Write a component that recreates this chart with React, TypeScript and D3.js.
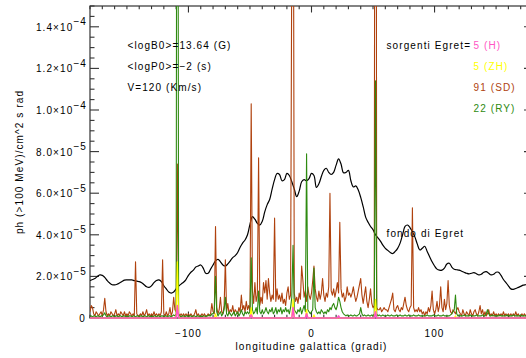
import {useEffect, useRef} from "react";
import * as d3 from "d3";

const W = 526;
const H = 358;
const lonStart = -180; // series sampled every 1 degree from -180 to 180
const bgStep = 2;      // Egret background sampled every 2 degrees

// all values in units of 1e-6 ph/cm^2 s rad
const bgValues = [
    18, 18.5, 19, 20, 20.7, 20.5, 19.5, 18, 16.8, 16,
    15.9, 16.2, 16.8, 17.5, 18.2, 18.3, 18.3, 18.3, 18, 17.7,
    17.5, 17, 16, 15, 14.7, 15.5, 17, 18, 18.3, 17.5,
    15.5, 14, 12.5, 12, 12.5, 14, 15.3, 16.3, 17.2, 18.5,
    20.5, 22, 23, 24.5, 25, 25.5, 24, 21.5, 21.5, 23.5,
    25.5, 27.5, 28.2, 27, 25.5, 25, 26, 27.5, 29, 30,
    31.5, 34, 36, 37.5, 40, 45, 48.7, 47.5, 45.5, 44.7,
    46.5, 51, 54.5, 57, 62, 66.5, 69.5, 69, 66, 66.5,
    69.5, 68.5, 65.5, 62, 58.3, 61, 65.5, 66.5, 66, 67,
    69.5, 68.5, 62.8, 64.5, 68, 71, 72, 70, 69, 70,
    73.5, 76.5, 74, 69.8, 70, 71, 66, 63, 63.5, 61.5,
    58, 53.5, 48.5, 46, 44, 42.5, 40, 38.5, 37, 35,
    33.5, 32.5, 31.5, 31, 32, 33.5, 36, 40, 44, 44.7,
    43.5, 41.5, 39, 35.5, 32.7, 33.5, 34.5, 32, 29.5, 27,
    25, 23.5, 23, 23, 24, 26, 26.3, 24.5, 23.4, 23.2,
    23, 22.5, 22, 21.5, 21.2, 21.5, 21.8, 21.3, 20.7, 21,
    22, 22.3, 21.5, 20.7, 21, 22, 22, 20.5, 18.5, 17,
    15.5, 14, 13.8, 14.2, 14.7, 15.2, 15.8, 16, 16.2, 16.3,
    16.5
];

const sdValues = [
    3, 6, 5, 2, 1, 3, 2, 1, 2, 3,
    1, 4, 9.5, 3, 1, 2, 1, 3, 2, 1,
    2, 4, 1, 2, 1, 3, 2, 1, 3, 1,
    2, 1, 3, 2, 1, 2, 1, 27, 2, 1,
    1, 2, 1, 3, 1, 2, 4, 1, 2, 1,
    2, 1, 3, 1, 2, 1, 2, 1, 3, 28,
    2, 1, 3, 1, 2, 5, 1, 3, 10, 4,
    3, 74, 2, 1, 2, 1, 2, 1, 2, 1,
    2, 1, 2, 1, 1, 2, 4, 1, 2, 1,
    1, 2, 1, 2, 1, 1, 2, 1, 2, 7,
    3, 2, 44, 5, 2, 4, 10, 3, 2, 6,
    28, 3, 7, 2, 4, 3, 6, 2, 4, 3,
    2, 5, 3, 11, 4, 6, 3, 8, 4, 6,
    3, 103, 13, 7, 17, 8, 11, 77, 6, 10,
    7, 17, 12, 18, 9, 19, 12, 8, 11, 9,
    48, 8, 14, 9, 11, 8, 12, 7, 9, 6,
    12, 15, 9, 11, 180, 300, 12, 8, 10, 7,
    12, 9, 25, 18, 10, 13, 8, 15, 11, 9,
    12, 18, 25, 14, 10, 8, 13, 9, 12, 19,
    11, 8, 12, 10, 15, 60, 13, 11, 14, 10,
    13, 17, 12, 46, 14, 10, 12, 8, 10, 15,
    11, 12, 10, 12, 15, 11, 8, 10, 13, 16,
    19, 11, 7, 11, 15, 8, 5, 9, 14, 7,
    5, 6, 600, 5, 4, 4, 5, 3, 4, 5,
    4, 4, 3, 5, 7, 9, 12, 4, 3, 5,
    6, 4, 3, 5, 4, 7, 10, 6, 4, 3,
    5, 6, 53, 5, 3, 4, 3, 5, 3, 4,
    2, 3, 1, 3, 2, 5, 3, 6, 13, 4,
    2, 4, 8, 3, 6, 15, 5, 3, 9, 4,
    7, 18, 6, 3, 2, 4, 3, 2, 4, 5,
    3, 2, 1, 4, 2, 1, 3, 2, 1, 4,
    2, 1, 3, 4, 2, 1, 3, 6, 2, 4,
    1, 3, 1, 2, 4, 1, 2, 1, 3, 1,
    2, 1, 2, 1, 2, 1, 3, 1, 2, 1,
    2, 1, 2, 1, 2, 1, 3, 1, 2, 1,
    1, 2, 1, 2, 1, 2, 1, 2, 1, 2,
    1
];

const ryValues = [
    1, 1, 0.5, 1, 1, 0.5, 1, 1, 0.5, 1,
    1, 1.5, 2.5, 1, 0.5, 1, 1, 0.5, 1, 1,
    0.5, 1, 1, 0.5, 1, 1, 0.5, 1, 1, 0.5,
    1, 0.5, 1, 1, 0.5, 1, 1, 0.5, 1, 1,
    0.5, 1, 1, 0.5, 1, 1, 0.5, 1, 1, 0.5,
    1, 0.5, 1, 1, 0.5, 1, 1, 0.5, 1, 1,
    0.5, 1, 1, 0.5, 1, 1, 0.5, 1, 1.5, 1,
    2, 500, 2, 1, 0.5, 1, 1, 0.5, 1, 1,
    0.5, 1, 1, 0.5, 1, 1, 0.5, 1, 1, 0.5,
    1, 0.5, 1, 1, 0.5, 1, 1, 1.5, 1, 2,
    2, 3, 20, 3, 1, 2, 3, 1, 2, 4,
    10, 2, 1, 3, 2, 1, 2, 3, 1, 2,
    3, 1, 2, 4, 2, 1, 3, 2, 3, 2,
    3, 29, 4, 2, 3, 5, 2, 13, 3, 2,
    4, 2, 3, 5, 3, 2, 4, 3, 5, 2,
    3, 5, 2, 4, 3, 5, 2, 4, 3, 5,
    3, 4, 2, 5, 10, 35, 4, 3, 2, 4,
    3, 5, 2, 4, 6, 3, 79, 4, 3, 2,
    3, 4, 24, 5, 3, 2, 3, 2, 4, 3,
    2, 3, 2, 4, 3, 5, 4, 6, 7, 5,
    4, 6, 10, 8, 5, 3, 2, 1.5, 1, 1.5,
    1, 1, 1.5, 1, 1, 1.5, 1, 1, 1.5, 2,
    5, 2, 1, 1.5, 1, 1, 1.5, 1, 1, 1.5,
    1, 2, 114, 2, 1, 1.5, 1, 1, 1.5, 1,
    1, 1, 1.5, 1, 1, 1.5, 1, 1, 1, 1.5,
    1, 1, 1.5, 1, 1, 1, 1.5, 1, 1, 1.5,
    1, 1, 1, 1.5, 1, 1, 1, 1.5, 1, 1,
    1, 1, 1, 1, 1.5, 1, 1, 1, 1, 1.5,
    1, 1, 1, 1.5, 1, 1, 1, 1.5, 1, 1,
    1, 1, 1, 1.5, 2, 3, 4, 11, 2, 1,
    1.5, 1, 1, 1, 1.5, 1, 1, 1, 1, 1.5,
    1, 1, 1, 1, 1.5, 1, 1, 1, 1, 1.5,
    1, 1, 2, 4, 2, 1, 1, 1.5, 1, 1,
    1, 1, 1, 1.5, 1, 1, 1, 1, 1, 1.5,
    1, 1, 1, 1, 1.5, 1, 1, 1, 1, 1,
    1.5, 1, 1, 1, 1, 1.5, 1, 1, 1, 1,
    1
];

const zhValues = [
    0, 0, 0, 0, 0, 0, 0, 0, 0, 0,
    0, 0, 0, 0, 0, 0, 0, 0, 0, 0,
    0, 0, 0, 0, 0, 0, 0, 0, 0, 0,
    0, 0, 0, 0, 0, 0, 0, 0, 0, 0,
    0, 0, 0, 0, 0, 0, 0, 0, 0, 0,
    0, 0, 0, 0, 0, 0, 0, 0, 0, 0,
    0, 0, 0, 0, 0, 0, 0, 0, 0, 0,
    0, 27, 0, 0, 0, 0, 0, 0, 0, 0,
    0, 0, 0, 0, 0, 0, 0, 0, 0, 0,
    0, 0, 0, 0, 0, 0, 0, 0, 0, 0,
    0, 0, 2, 0, 0, 0, 0, 0, 0, 0,
    0, 0, 0, 0, 0, 0, 0, 0, 0, 0,
    0, 0, 0, 0, 0, 0, 0, 0, 0, 0,
    0, 5, 0, 0, 0, 0, 0, 0, 0, 0,
    0, 0, 0, 0, 0, 0, 0, 0, 0, 0,
    0, 0, 0, 0, 0, 0, 0, 0, 0, 0,
    0, 0, 0, 0, 0, 9, 0, 0, 0, 0,
    0, 0, 0, 0, 0, 0, 4, 0, 0, 0,
    0, 0, 1.5, 0, 0, 0, 0, 0, 0, 0,
    0, 0, 0, 0, 0, 0, 0, 0, 0, 0,
    0, 0, 0, 0, 0, 0, 0, 0, 0, 0,
    0, 0, 0, 0, 0, 0, 0, 0, 0, 0,
    0, 0, 0, 0, 0, 0, 0, 0, 0, 0,
    0, 0, 9, 0, 0, 0, 0, 0, 0, 0,
    0, 0, 0, 0, 0, 0, 0, 0, 0, 0,
    0, 0, 0, 0, 0, 0, 0, 0, 0, 0,
    0, 0, 0, 0, 0, 0, 0, 0, 0, 0,
    0, 0, 0, 0, 0, 0, 0, 0, 0, 0,
    0, 0, 0, 0, 0, 0, 0, 0, 0, 0,
    0, 0, 0, 0, 0, 0, 0, 1, 0, 0,
    0, 0, 0, 0, 0, 0, 0, 0, 0, 0,
    0, 0, 0, 0, 0, 0, 0, 0, 0, 0,
    0, 0, 0, 0, 0, 0, 0, 0, 0, 0,
    0, 0, 0, 0, 0, 0, 0, 0, 0, 0,
    0, 0, 0, 0, 0, 0, 0, 0, 0, 0,
    0, 0, 0, 0, 0, 0, 0, 0, 0, 0,
    0
];

const hValues = [
    0, 0, 0, 0, 0, 0, 0, 0, 0, 0,
    0, 0, 0, 0, 0, 0, 0, 0, 0, 0,
    0, 0, 0, 0, 0, 0, 0, 0, 0, 0,
    0, 0, 0, 0, 0, 0, 0, 0, 0, 0,
    0, 0, 0, 0, 0, 0, 0, 0, 0, 0,
    0, 0, 0, 0, 0, 0, 0, 0, 0, 0,
    0, 0, 0, 0, 0, 0, 0, 0, 0, 0,
    0, 6, 0, 0, 0, 0, 0, 0, 0, 0,
    0, 0, 0, 0, 0, 0, 0, 0, 0, 0,
    0, 0, 0, 0, 0, 0, 0, 0, 0, 0,
    0, 0, 0, 0, 0, 0, 0, 0, 0, 0,
    0, 0, 0, 0, 0, 0, 0, 0, 0, 0,
    0, 0, 0, 0, 0, 0, 0, 0, 0, 0,
    0, 1.5, 0, 0, 0, 0, 0, 0, 0, 0,
    0, 0, 0, 0, 0, 0, 0, 0, 0, 0,
    0, 0, 0, 0, 0, 0, 0, 0, 0, 0,
    0, 0, 0, 0, 0, 5, 0, 0, 0, 0,
    0, 0, 0, 0, 0, 0, 2, 0, 0, 0,
    0, 0, 0, 0, 0, 0, 0, 0, 0, 0,
    0, 0, 0, 0, 0, 0, 0, 0, 0, 0,
    0, 0, 1, 0, 0, 0, 0, 0, 0, 0,
    0, 0, 0, 0, 0, 0, 0, 0, 0, 0,
    0, 0, 0, 0, 0, 0, 0, 0, 0, 0,
    0, 0, 3, 0, 0, 0, 0, 0, 0, 0,
    0, 0, 0, 0, 0, 0, 0, 0, 0, 0,
    0, 0, 0, 0, 0, 0, 0, 0, 0, 0,
    0, 0, 0, 0, 0, 0, 0, 0, 0, 0,
    0, 0, 0, 0, 0, 0, 0, 0, 0, 0,
    0, 0, 0, 0, 0, 0, 0, 0, 0, 0,
    0, 0, 0, 0, 0, 0, 0, 0, 0, 0,
    0, 0, 0, 0, 0, 0, 0, 0, 0, 0,
    0, 0, 0, 0, 0, 0, 0, 0, 0, 0,
    0, 0, 0, 0, 0, 0, 0, 0, 0, 0,
    0, 0, 0, 0, 0, 0, 0, 0, 0, 0,
    0, 0, 0, 0, 0, 0, 0, 0, 0, 0,
    0, 0, 0, 0, 0, 0, 0, 0, 0, 0,
    0
];

const yTickValues = [0, 2e-5, 4e-5, 6e-5, 8e-5, 1e-4, 1.2e-4, 1.4e-4];
const yTickMain = ["0", "2.0×10", "4.0×10", "6.0×10", "8.0×10", "1.0×10", "1.2×10", "1.4×10"];
const yTickExp = ["", "−5", "−5", "−5", "−5", "−4", "−4", "−4"];
const xTickValues = [-100, 0, 100];
const xTickLabels = ["−100", "0", "100"];

const infoLines = ["<logB0>=13.64 (G)", "<logP0>=−2 (s)", "V=120 (Km/s)"];
const legendTitle = "sorgenti Egret=";
const legendNames = ["5 (H)", "5 (ZH)", "91 (SD)", "22 (RY)"];

const colH = "#ff55c4";
const colZH = "#ffff00";
const colSD = "#b0420e";
const colRY = "#2e8a10";

const FONT = "'Liberation Sans', Arial, sans-serif";

const App = () => {
    const svgRef = useRef<SVGSVGElement | null>(null);

    useEffect(() => {
        const svg = d3.select(svgRef.current);
        svg.selectAll("*").remove();

        const left = 90, right = 533, top = 6, bottom = 318;
        const x = d3.scaleLinear().domain([-180, 180]).range([left, right]);
        const y = d3.scaleLinear().domain([0, 1.5e-4]).range([bottom, top]);

        const txt = (g: any) => g
            .attr("font-family", FONT)
            .attr("font-size", 10)
            .attr("letter-spacing", "1.1px")
            .attr("fill", "#000");

        svg.append("rect").attr("width", W).attr("height", H).attr("fill", "#fff");

        // frame
        const axisCol = "#333";
        svg.append("rect")
            .attr("x", left).attr("y", top)
            .attr("width", right - left).attr("height", bottom - top)
            .attr("fill", "none").attr("stroke", axisCol).attr("stroke-width", 1.2);

        // y ticks (left and right)
        const yMinor = d3.range(0, 1.5e-4 + 1e-12, 5e-6);
        const yt = svg.append("g").attr("stroke", axisCol).attr("stroke-width", 1.1);
        yMinor.forEach((v, i) => {
            const len = i % 4 === 0 ? 9 : 4.5;
            yt.append("line").attr("x1", left).attr("x2", left + len).attr("y1", y(v)).attr("y2", y(v));
            yt.append("line").attr("x1", right).attr("x2", right - len).attr("y1", y(v)).attr("y2", y(v));
        });

        // x ticks (top and bottom)
        const xMinor = d3.range(-180, 181, 10);
        xMinor.forEach(v => {
            const len = v % 100 === 0 ? 6.5 : 3.2;
            yt.append("line").attr("x1", x(v)).attr("x2", x(v)).attr("y1", bottom).attr("y2", bottom - len);
            yt.append("line").attr("x1", x(v)).attr("x2", x(v)).attr("y1", top).attr("y2", top + len);
        });

        // y tick labels
        yTickValues.forEach((v, i) => {
            const t = svg.append("text")
                .call(txt)
                .attr("text-anchor", "end")
                .attr("x", yTickExp[i] ? 87 : 86)
                .attr("y", y(v) + 4);
            t.append("tspan").text(yTickMain[i]);
            if (yTickExp[i]) t.append("tspan").attr("dy", -5.5).text(yTickExp[i]);
        });

        // x tick labels
        xTickValues.forEach((v, i) => {
            svg.append("text").call(txt)
                .attr("text-anchor", "middle")
                .attr("x", x(v)).attr("y", 337)
                .text(xTickLabels[i]);
        });

        svg.append("text").call(txt)
            .attr("text-anchor", "middle")
            .attr("x", (left + right) / 2).attr("y", 350)
            .text("longitudine galattica (gradi)");

        svg.append("text").call(txt)
            .attr("text-anchor", "middle")
            .attr("transform", `translate(23,${(top + bottom) / 2}) rotate(-90)`)
            .text("ph (>100 MeV)/cm^2 s rad");

        // data lines
        const clipId = "plotClip";
        svg.append("clipPath").attr("id", clipId)
            .append("rect").attr("x", left).attr("y", top).attr("width", right - left).attr("height", bottom - top + 3);
        const plot = svg.append("g").attr("clip-path", `url(#${clipId})`);

        const bgLine = d3.line<number>()
            .x((_, i) => x(lonStart + i * bgStep))
            .y(d => y(d * 1e-6))
            .curve(d3.curveCatmullRom);
        const line = d3.line<number>()
            .x((_, i) => x(lonStart + i))
            .y(d => y(d * 1e-6));

        plot.append("path").attr("d", bgLine(bgValues)).attr("fill", "none")
            .attr("stroke", "#000").attr("stroke-width", 1.2);

        const series: [number[], string, number][] = [
            [sdValues, colSD, 1.1],
            [ryValues, colRY, 1.1],
            [zhValues, colZH, 1.2],
            [hValues, colH, 1.6],
        ];
        series.forEach(([vals, col, w]) => {
            plot.append("path").attr("d", line(vals)).attr("fill", "none")
                .attr("stroke", col).attr("stroke-width", w).attr("stroke-linejoin", "round");
        });

        // annotations
        infoLines.forEach((s, i) => {
            svg.append("text").call(txt).attr("x", 127.5).attr("y", 48.8 + i * 21).text(s);
        });
        svg.append("text").call(txt).attr("x", 386.5).attr("y", 48.8).text(legendTitle);
        const legendCols = [colH, colZH, colSD, colRY];
        legendNames.forEach((s, i) => {
            svg.append("text").call(txt).attr("x", 473.5).attr("y", 48.8 + i * 20.9)
                .attr("fill", legendCols[i]).text(s);
        });

        svg.append("text").call(txt).attr("x", 386.5).attr("y", 236.8).text("fondo di Egret");
    }, []);

    return <svg ref={svgRef} width={W} height={H} style={{position: "absolute", left: 0, top: 0}}></svg>;
};

export default App;
